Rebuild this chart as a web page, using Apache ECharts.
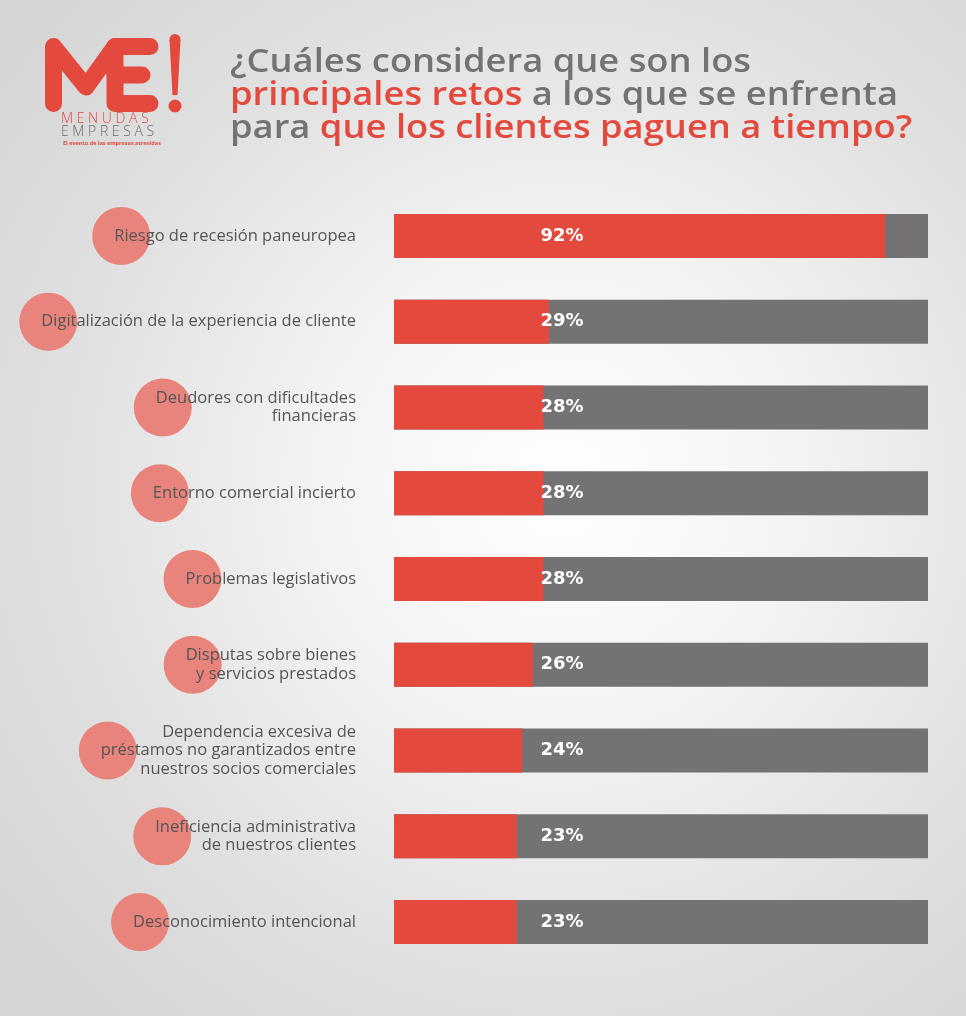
<!DOCTYPE html>
<html><head><meta charset="utf-8">
<script src="https://cdn.jsdelivr.net/npm/echarts@6/dist/echarts.min.js"></script>
<style>
html,body{margin:0;padding:0;width:966px;height:1016px;overflow:hidden;
background:radial-gradient(ellipse 72% 68% at 58% 48%, #ffffff 0%, #f3f3f3 35%, #e0e0e0 72%, #d6d6d6 100%);}
#c{width:966px;height:1016px;}
</style></head>
<body><div id="c"></div>
<script>
const categories = [
  'Riesgo de recesión paneuropea',
  'Digitalización de la experiencia de cliente',
  'Deudores con dificultades\nfinancieras',
  'Entorno comercial incierto',
  'Problemas legislativos',
  'Disputas sobre bienes\ny servicios prestados',
  'Dependencia excesiva de\npréstamos no garantizados entre\nnuestros socios comerciales',
  'Ineficiencia administrativa\nde nuestros clientes',
  'Desconocimiento intencional'
];
const values = [92, 29, 28, 28, 28, 26, 24, 23, 23];
const scaleMax = 100;
const titleLines = [
  [['g', '¿Cuáles considera que son los']],
  [['r', 'principales retos'], ['g', ' a los que se enfrenta']],
  [['g', 'para '], ['r', 'que los clientes paguen a tiempo?']]
];

const RED = '#e4493e', GREY = '#747272', LABEL = '#555555', TITLE_GREY = '#737373';
const FONT = '"Open Sans", sans-serif';
const LABEL_SIZE = 16.5;

const chart = echarts.init(document.getElementById('c'), null, {renderer: 'canvas'});

const titleText = titleLines.map(line => line.map(([k, t]) => '{' + k + '|' + t + '}').join('')).join('\n');

const option = {
  animation: false,
  backgroundColor: 'transparent',
  grid: {left: 394, right: 38, top: 193, bottom: 51, containLabel: false},
  xAxis: {type: 'value', min: 0, max: scaleMax, show: false},
  yAxis: {
    type: 'category', data: categories, inverse: true, z: 10,
    axisLine: {show: false}, axisTick: {show: false}, splitLine: {show: false},
    axisLabel: {margin: 38, fontSize: LABEL_SIZE, color: LABEL, fontFamily: FONT, lineHeight: 18.5, align: 'right'}
  },
  series: [
    {type: 'bar', name: 'total', data: categories.map(() => scaleMax), barWidth: 44, silent: true,
     itemStyle: {color: GREY}, z: 1},
    {type: 'bar', name: 'valor', data: values, barWidth: 44, barGap: '-100%', silent: true,
     itemStyle: {color: RED}, z: 2},
    {type: 'bar', name: 'etiqueta', data: categories.map(() => scaleMax), barWidth: 44, barGap: '-100%', silent: true,
     itemStyle: {color: 'rgba(0,0,0,0)'}, z: 3,
     label: {show: true, position: ['31.46%', '50%'], align: 'center', verticalAlign: 'middle',
       color: '#ffffff', fontSize: 18, fontWeight: 700, fontFamily: '"DejaVu Sans", sans-serif',
       formatter: p => values[p.dataIndex] + '%'}}
  ]
};
chart.setOption(option);

// decorative circles behind the start of each label
const cv = document.createElement('canvas').getContext('2d');
cv.font = LABEL_SIZE + 'px ' + FONT;
const labelRight = 394 - 38;
const circles = categories.map((c, i) => {
  const w = Math.max(...c.split('\n').map(s => cv.measureText(s).width));
  const cy = chart.convertToPixel({yAxisIndex: 0}, i);
  return {type: 'circle', z: 0, silent: true,
    shape: {cx: labelRight - w + 7, cy: cy, r: 29},
    style: {fill: '#e8847b'}};
});

const title = {
  type: 'text', z: 1, x: 230, y: 46, scaleX: 1.135, scaleY: 1, originX: 0, originY: 0,
  style: {
    text: titleText, verticalAlign: 'top', align: 'left',
    rich: {
      g: {fill: TITLE_GREY, fontSize: 32, fontWeight: 600, fontFamily: FONT, lineHeight: 33},
      r: {fill: RED, fontSize: 32, fontWeight: 600, fontFamily: FONT, lineHeight: 33}
    }
  }
};

const logo = [
  {type: 'polyline', z: 1, shape: {points: [[53.5, 103.5], [53.5, 46.5], [86, 87], [115, 46.5], [115, 103.5], [150, 103.5]]},
   style: {stroke: RED, lineWidth: 17, lineCap: 'round', lineJoin: 'round', fill: null}},
  {type: 'line', z: 1, shape: {x1: 115, y1: 46.5, x2: 150, y2: 46.5}, style: {stroke: RED, lineWidth: 17, lineCap: 'round'}},
  {type: 'line', z: 1, shape: {x1: 115, y1: 75, x2: 142, y2: 75}, style: {stroke: RED, lineWidth: 17, lineCap: 'round'}},
  {type: 'polygon', z: 1, shape: {points: [[169.5, 40], [180.5, 40], [177.5, 95], [172.5, 95]]}, style: {fill: RED}},
  {type: 'circle', z: 1, shape: {cx: 175, cy: 39.5, r: 5.5}, style: {fill: RED}},
  {type: 'circle', z: 1, shape: {cx: 175, cy: 106, r: 6.5}, style: {fill: RED}},
  {type: 'text', z: 1, x: 61, y: 112, style: {text: 'M E N U D A S', fill: RED, font: '300 14px ' + FONT}},
  {type: 'text', z: 1, x: 61, y: 125, style: {text: 'E M P R E S A S', fill: '#6a6a6a', font: '300 14px ' + FONT}},
  {type: 'text', z: 1, x: 63, y: 140, style: {text: 'El evento de las empresas atrevidas', fill: RED, font: 'bold 5.5px ' + FONT}}
];

chart.setOption({graphic: {elements: circles.concat([title]).concat(logo)}});
</script>
</body></html>
